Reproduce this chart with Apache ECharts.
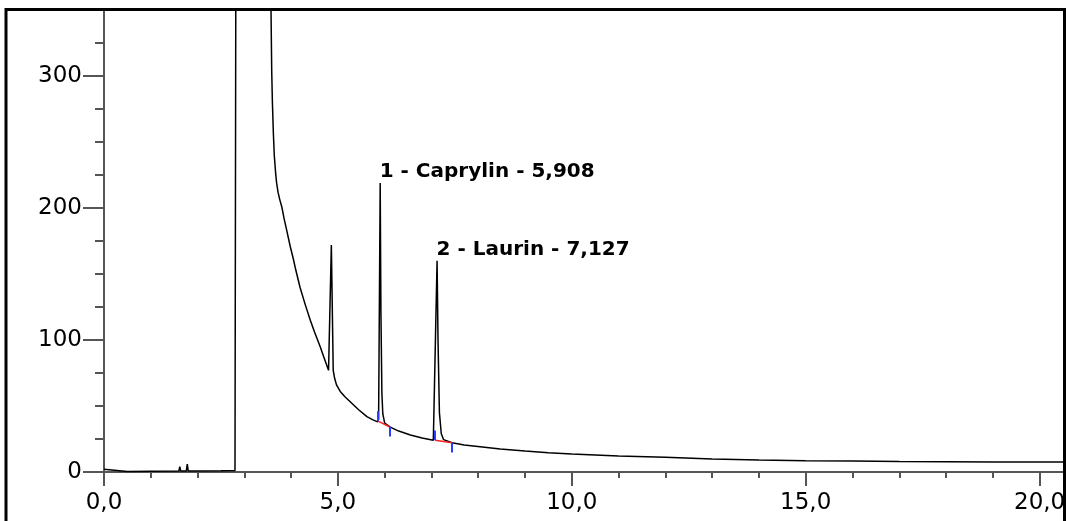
<!DOCTYPE html>
<html>
<head>
<meta charset="utf-8">
<script src="https://cdn.jsdelivr.net/npm/echarts@6/dist/echarts.min.js"></script>
<style>html,body{margin:0;padding:0;background:#fff;}#c{width:1068px;height:521px;}</style>
</head>
<body>
<div id="c"></div>
<script>
// Retention time (min) and detector signal
const chromTime = [
  0.00, 0.03, 0.5, 1.0, 1.60, 1.62, 1.64, 1.76, 1.78, 1.80, 2.5, 2.80,
  2.82, 3.56, 3.57, 3.585, 3.60, 3.62, 3.64, 3.67, 3.69, 3.72, 3.76, 3.80,
  3.85, 3.90, 3.98, 4.05, 4.10, 4.19, 4.30, 4.41, 4.50, 4.62, 4.70, 4.80,
  4.86, 4.90, 4.93, 4.97, 5.05, 5.15, 5.33, 5.45, 5.62, 5.75, 5.85, 5.87,
  5.904, 5.92, 5.94, 5.96, 6.00, 6.12, 6.30, 6.55, 6.80, 7.04, 7.08, 7.12,
  7.14, 7.17, 7.21, 7.26, 7.44, 7.70, 8.04, 8.47, 9.0, 9.5, 10.0, 11.0,
  12.0, 13.0, 14.0, 15.0, 16.0, 17.0, 18.0, 19.0, 20.5
];
const chromSignal = [
  2.0, 0.8, 0.4, 0.5, 0.7, 4.0, 0.7, 0.8, 6.0, 0.8, 1.0, 1.2,
  420, 420, 350, 304, 280, 257, 240, 226, 219, 212, 206, 201,
  192, 184, 171, 161, 153, 140, 127, 115, 106, 95, 87, 77,
  172, 77, 71, 66, 61, 57, 51, 47, 42, 39.5, 38, 40,
  219, 120, 60, 44, 37, 34, 31, 28, 25.8, 24, 25, 160,
  100, 45, 29, 24.5, 22.2, 20.5, 19.2, 17.5, 15.9, 14.6, 13.6, 12.1,
  11.1, 9.8, 9.1, 8.6, 8.3, 8.0, 7.8, 7.6, 7.5
];
// Peak annotations
const peakNames = ['1 - Caprylin - 5,908', '2 - Laurin - 7,127'];
const peakApexTime = [5.904, 7.12];
const peakApexSignal = [219, 160];
// Integration marks: start (above baseline) / end (below baseline)
const peakStartTime = [5.86, 7.08];
const peakStartSignal = [38.5, 24];
const peakEndTime = [6.10, 7.44];
const peakEndSignal = [34.3, 22.2];
// Axis ticks
const xMajorTicks = [0, 5, 10, 15, 20];
const xMinorTicks = [1, 2, 3, 4, 6, 7, 8, 9, 11, 12, 13, 14, 16, 17, 18, 19];
const yMajorTicks = [0, 100, 200, 300];
const yMinorTicks = [25, 50, 75, 125, 150, 175, 225, 250, 275, 325, 350];

const FONT = 'DejaVu Sans';
const chart = echarts.init(document.getElementById('c'), null, {renderer: 'canvas'});

const lineData = chromTime.map((t, i) => [t, chromSignal[i]]);
const blueMarks = [];
const redMarks = [];
for (let i = 0; i < peakStartTime.length; i++) {
  blueMarks.push({coords: [[peakStartTime[i], peakStartSignal[i]], [peakStartTime[i], peakStartSignal[i] + 7.5]]});
  blueMarks.push({coords: [[peakEndTime[i], peakEndSignal[i]], [peakEndTime[i], peakEndSignal[i] - 7.5]]});
  redMarks.push({coords: [[peakStartTime[i], peakStartSignal[i]], [peakEndTime[i], peakEndSignal[i]]]});
}
const labelPoints = peakNames.map((n, i) => ({name: n, coord: [peakApexTime[i], peakApexSignal[i]]}));

const axisGray = '#555';
chart.setOption({
  animation: false,
  backgroundColor: '#fff',
  grid: {left: 104, right: 5, top: 10, bottom: 49, outerBoundsMode: 'none', containLabel: false},
  xAxis: [
    {
      type: 'value', min: 0, max: 20.5, position: 'bottom',
      axisLine: {show: true, onZero: false, lineStyle: {color: axisGray, width: 2}},
      axisTick: {show: true, customValues: xMajorTicks, length: 14, lineStyle: {color: axisGray, width: 2}},
      axisLabel: {show: true, customValues: xMajorTicks, margin: 20, fontSize: 23, fontFamily: FONT, color: '#000',
        formatter: v => v.toFixed(1).replace('.', ',')},
      splitLine: {show: false}
    },
    {
      type: 'value', min: 0, max: 20.5, position: 'bottom', offset: 0,
      axisLine: {show: false, onZero: false},
      axisTick: {show: true, customValues: xMinorTicks, length: 6, lineStyle: {color: axisGray, width: 2}},
      axisLabel: {show: false},
      splitLine: {show: false}
    }
  ],
  yAxis: [
    {
      type: 'value', min: 0, max: 350, position: 'left',
      axisLine: {show: true, onZero: false, lineStyle: {color: axisGray, width: 2}},
      axisTick: {show: true, customValues: yMajorTicks, length: 21, lineStyle: {color: axisGray, width: 2}},
      axisLabel: {show: true, customValues: yMajorTicks, margin: 22, fontSize: 23, fontFamily: FONT, color: '#000'},
      splitLine: {show: false}
    },
    {
      type: 'value', min: 0, max: 350, position: 'left', offset: 0,
      axisLine: {show: false, onZero: false},
      axisTick: {show: true, customValues: yMinorTicks, length: 9, lineStyle: {color: axisGray, width: 2}},
      axisLabel: {show: false},
      splitLine: {show: false}
    }
  ],
  series: [
    {
      type: 'line', xAxisIndex: 0, yAxisIndex: 0, data: lineData,
      showSymbol: false, symbol: 'none', clip: true, z: 3,
      lineStyle: {color: '#000', width: 1.5},
      markPoint: {
        symbol: 'circle', symbolSize: 1, itemStyle: {color: 'rgba(0,0,0,0)'},
        label: {show: true, formatter: '{b}', position: [0, -11], align: 'left', verticalAlign: 'middle',
          fontFamily: FONT, fontWeight: 'bold', fontSize: 20, color: '#000'},
        data: labelPoints
      }
    },
    {
      type: 'lines', coordinateSystem: 'cartesian2d', xAxisIndex: 0, yAxisIndex: 0,
      data: redMarks, z: 4,
      lineStyle: {color: '#ff2020', width: 1.5, opacity: 1}
    },
    {
      type: 'lines', coordinateSystem: 'cartesian2d', xAxisIndex: 0, yAxisIndex: 0,
      data: blueMarks, z: 5,
      lineStyle: {color: '#2a3cff', width: 2, opacity: 1}
    }
  ],
  graphic: [
    {type: 'rect', z: 99, shape: {x: 1066, y: 0, width: 10, height: 521}, style: {fill: '#fff'}},
    {type: 'rect', z: 100, shape: {x: 6, y: 9.5, width: 1058.5, height: 600},
      style: {fill: null, stroke: '#000', lineWidth: 3}}
  ]
});
</script>
</body>
</html>
